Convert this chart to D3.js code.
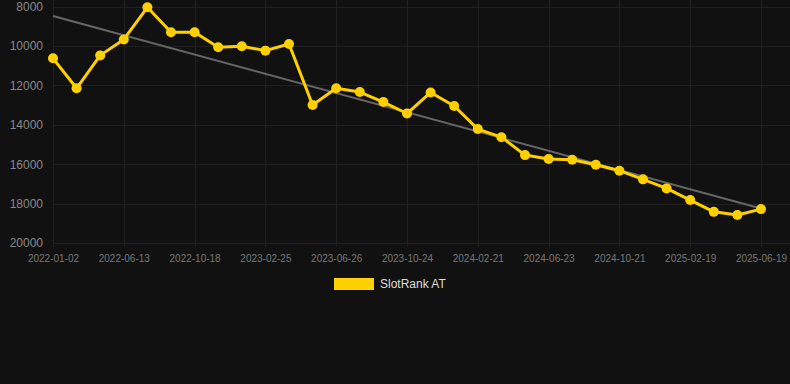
<!DOCTYPE html>
<html>
<head>
<meta charset="utf-8">
<script src="https://cdn.jsdelivr.net/npm/d3@7"></script>
<style>
  html, body { margin: 0; padding: 0; background: #111111; }
  svg { display: block; font-family: "Liberation Sans", Arial, sans-serif; }
</style>
</head>
<body>
<script>
// SlotRank position over time (lower is better, axis inverted)
const seriesName = 'SlotRank AT'
const ranks = [
    10630, 12150, 10480, 9670, 8040, 9310, 9310, 10070, 10020, 10240, 9900,
    13000, 12150, 12340, 12850, 13430, 12360, 13050, 14220, 14630, 15540,
    15740, 15780, 16030, 16330, 16770, 17230, 17820, 18420, 18580, 18280
]
const tickLabels = [
    '2022-01-02', '2022-06-13', '2022-10-18', '2023-02-25', '2023-06-26', '2023-10-24',
    '2024-02-21', '2024-06-23', '2024-10-21', '2025-02-19', '2025-06-19'
]
const yTicks = [8000, 10000, 12000, 14000, 16000, 18000, 20000]

const width = 790, height = 384
const plot = {left: 53, right: 761, top: 6.5, bottom: 243}

const svg = d3.select('body').append('svg')
    .attr('width', width)
    .attr('height', height)

svg.append('rect').attr('width', width).attr('height', height).attr('fill', '#111111')

const idx = d3.range(ranks.length)
const x = d3.scalePoint(idx, [plot.left, plot.right])
const y = d3.scaleLinear([8000, 20000], [plot.top, plot.bottom])

const tickIdx = idx.filter(i => i % 3 === 0)

// grid
const grid = svg.append('g').attr('stroke', '#202020').attr('stroke-width', 1)
grid.selectAll('line.h')
    .data(yTicks)
    .join('line')
    .attr('class', 'h')
    .attr('x1', plot.left).attr('x2', width)
    .attr('y1', d => Math.round(y(d)) + 0.5).attr('y2', d => Math.round(y(d)) + 0.5)
grid.selectAll('line.v')
    .data(tickIdx)
    .join('line')
    .attr('class', 'v')
    .attr('x1', d => Math.round(x(d)) + 0.5).attr('x2', d => Math.round(x(d)) + 0.5)
    .attr('y1', 0).attr('y2', plot.bottom + 4)

// y axis labels
const yAxis = svg.append('g')
    .attr('transform', `translate(${plot.left - 10},0)`)
    .call(d3.axisLeft(y).tickValues(yTicks).tickSize(0).tickPadding(0).tickFormat(d3.format('d')))
yAxis.select('.domain').remove()
yAxis.selectAll('text').attr('fill', '#888888').attr('font-size', 12)

// x axis labels
const xAxis = svg.append('g')
    .attr('transform', `translate(0,${plot.bottom})`)
    .call(d3.axisBottom(x).tickValues(tickIdx).tickSize(0).tickPadding(12).tickFormat(i => tickLabels[i / 3]))
xAxis.select('.domain').remove()
xAxis.selectAll('text').attr('fill', '#777777').attr('font-size', 10)

// trend line (least squares over the series)
const n = ranks.length
const mx = d3.mean(idx), my = d3.mean(ranks)
const slope = d3.sum(idx, i => (i - mx) * (ranks[i] - my)) / d3.sum(idx, i => (i - mx) ** 2)
const trend = i => my + slope * (i - mx)
svg.append('line')
    .attr('x1', x(0)).attr('y1', y(trend(0)))
    .attr('x2', x(n - 1)).attr('y2', y(trend(n - 1)))
    .attr('stroke', '#666666')
    .attr('stroke-width', 2)

// series
const color = '#FFD000'
svg.append('path')
    .datum(ranks)
    .attr('fill', 'none')
    .attr('stroke', color)
    .attr('stroke-width', 3)
    .attr('stroke-linejoin', 'round')
    .attr('d', d3.line((d, i) => x(i), d => y(d)))

svg.append('g')
    .selectAll('circle')
    .data(ranks)
    .join('circle')
    .attr('cx', (d, i) => x(i))
    .attr('cy', d => y(d))
    .attr('r', 5)
    .attr('fill', color)

// legend
const legend = svg.append('g').attr('transform', 'translate(334,278)')
legend.append('rect').attr('width', 40).attr('height', 12).attr('fill', color)
legend.append('text')
    .attr('x', 46).attr('y', 6).attr('dy', '0.35em')
    .attr('fill', '#dddddd').attr('font-size', 12)
    .text(seriesName)
</script>
</body>
</html>
